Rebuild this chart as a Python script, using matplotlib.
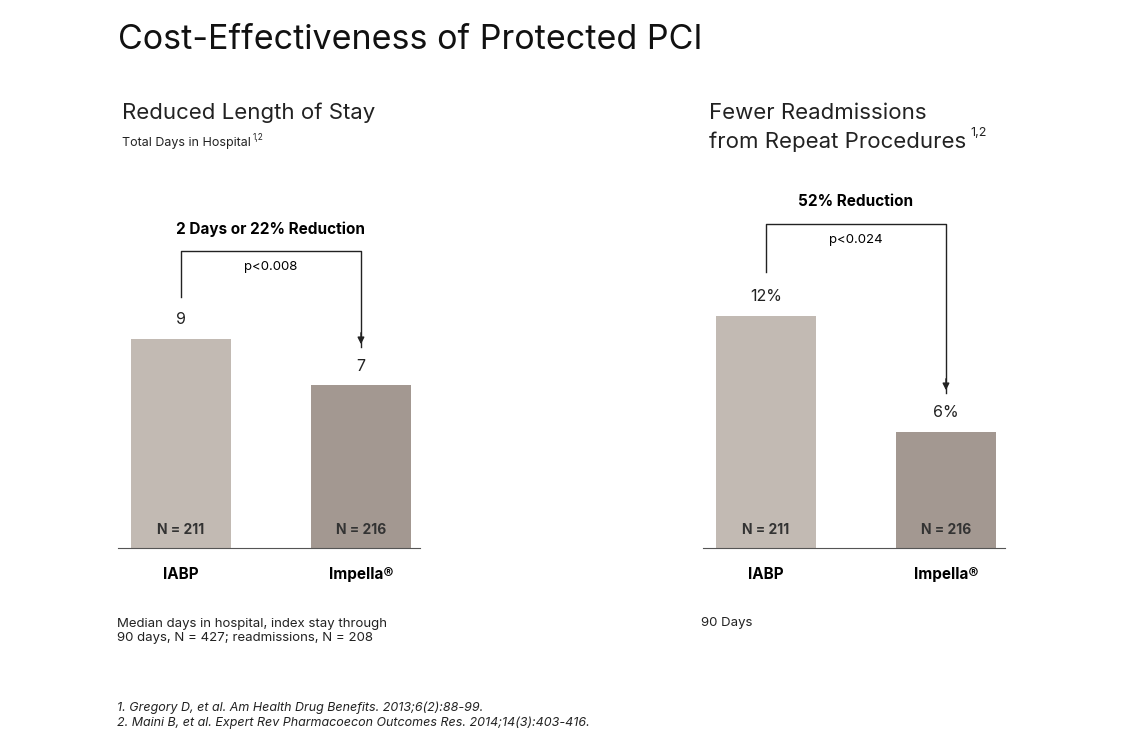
import matplotlib.pyplot as plt

plt.rcParams['font.family'] = ['Inter', 'DejaVu Sans']

groups = ['IABP', 'Impella®']
n_labels = ['N = 211', 'N = 216']
stay_days = [9, 7]
readmit_pct = [12, 6]
colors = ['#c2bab3', '#a39891']

W, H = 1126, 754
fig = plt.figure(figsize=(W / 100, H / 100), dpi=100)

def px_axes(x0, x1, ytop, ybot):
    return fig.add_axes([x0 / W, 1 - ybot / H, (x1 - x0) / W, (ybot - ytop) / H])

def panel(ax, vals, ymax, fmt, label_gap):
    ax.bar([0, 1], vals, width=0.555, color=colors)
    ax.set_xlim(-0.35, 1.328)
    ax.set_ylim(0, ymax)
    for s in ['top', 'right', 'left']:
        ax.spines[s].set_visible(False)
    ax.spines['bottom'].set_color('#555555')
    ax.set_yticks([])
    ax.set_xticks([0, 1])
    ax.set_xticklabels(groups, fontsize=11, fontweight='bold')
    ax.tick_params(axis='x', length=0, pad=14)
    for i, v in enumerate(vals):
        ax.text(i, ymax * 0.045, n_labels[i], ha='center', va='center', fontsize=10, fontweight='bold', color='#333333')
        ax.text(i, v + label_gap, fmt.format(v), ha='center', va='bottom', fontsize=11.5, color='#222222')

# left panel: 23.25 px per day
axl = px_axes(118, 420, 150, 548)
panel(axl, stay_days, 398 / 23.25, '{}', 0.5)
u = 23.25
axl.plot([0, 0, 1, 1], [(548 - 297) / u, (548 - 251) / u, (548 - 251) / u, (548 - 347) / u], color='#222222', lw=1, clip_on=False)
axl.annotate('', xy=(1, (548 - 347) / u), xytext=(1, (548 - 330) / u),
             arrowprops=dict(arrowstyle='-|>', color='#222222', lw=1), annotation_clip=False)
axl.text(0.5, (548 - 229) / u, '2 Days or 22% Reduction', ha='center', va='center', fontsize=11, fontweight='bold', clip_on=False)
axl.text(0.5, (548 - 267) / u, 'p<0.008', ha='center', va='center', fontsize=9.5, clip_on=False)

# right panel: 19.35 px per %
axr = px_axes(703, 1005, 150, 548)
u = 19.35
panel(axr, readmit_pct, 398 / u, '{}%', 0.6)
axr.plot([0, 0, 1, 1], [(548 - 272) / u, (548 - 224) / u, (548 - 224) / u, (548 - 393) / u], color='#222222', lw=1, clip_on=False)
axr.annotate('', xy=(1, (548 - 393) / u), xytext=(1, (548 - 376) / u),
             arrowprops=dict(arrowstyle='-|>', color='#222222', lw=1), annotation_clip=False)
axr.text(0.5, (548 - 202) / u, '52% Reduction', ha='center', va='center', fontsize=11, fontweight='bold', clip_on=False)
axr.text(0.5, (548 - 240) / u, 'p<0.024', ha='center', va='center', fontsize=9.5, clip_on=False)

def t(x, y, s, **kw):
    fig.text(x / W, 1 - y / H, s, va='center', **kw)

t(118, 40, 'Cost-Effectiveness of Protected PCI', fontsize=24.5, color='#111111')
t(122, 113, 'Reduced Length of Stay', fontsize=16, color='#222222')
t(122, 143, 'Total Days in Hospital', fontsize=9, color='#222222')
t(253, 138, '1,2', fontsize=6, color='#222222')
t(709, 113, 'Fewer Readmissions', fontsize=16, color='#222222')
t(709, 142, 'from Repeat Procedures', fontsize=16, color='#222222')
t(970, 133, '1,2', fontsize=9, color='#222222')
t(117, 631, 'Median days in hospital, index stay through\n90 days, N = 427; readmissions, N = 208', fontsize=9.5, color='#222222', linespacing=1.3)
t(701, 623, '90 Days', fontsize=9.5, color='#222222')
t(117, 715, '1. Gregory D, et al. Am Health Drug Benefits. 2013;6(2):88-99.\n2. Maini B, et al. Expert Rev Pharmacoecon Outcomes Res. 2014;14(3):403-416.',
  fontsize=9, style='italic', color='#222222', linespacing=1.3)

fig.savefig('out.png', dpi=100, facecolor='white')
